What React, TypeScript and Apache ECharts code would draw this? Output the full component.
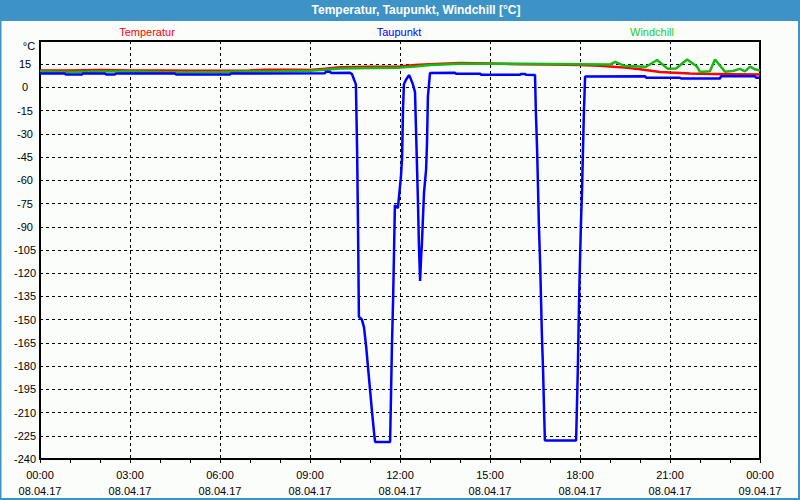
import React, { useEffect, useRef } from "react";
import * as echarts from "echarts";

const TITLE = "Temperatur, Taupunkt, Windchill [°C]";
const SERIES_NAMES = ["Temperatur", "Taupunkt", "Windchill"];
const X_TICK_HOURS = [0, 3, 6, 9, 12, 15, 18, 21, 24];
const X_TICK_TIMES = ["00:00", "03:00", "06:00", "09:00", "12:00", "15:00", "18:00", "21:00", "00:00"];
const X_TICK_DATES = ["08.04.17", "08.04.17", "08.04.17", "08.04.17", "08.04.17", "08.04.17", "08.04.17", "08.04.17", "09.04.17"];
const Y_MIN = -240;
const Y_MAX = 30;
const Y_STEP = 15;

// [hour, °C]
const temperatur: number[][] = [
  [0, 11], [1, 11], [2, 11.2], [3, 11], [4, 11], [5, 10.8], [6, 10.8], [7, 11], [7.5, 11.5],
  [8.5, 11.5], [9, 11.3], [9.5, 12], [10, 13], [11, 13.3], [12, 13.5], [12.5, 14.5], [13, 15],
  [14, 15.8], [15, 15.5], [16, 15], [17, 14.8], [18, 14.5], [18.67, 14], [19, 13.6], [19.5, 12.8],
  [20, 11.7], [20.67, 10], [21, 9.6], [21.67, 9], [22, 8.8], [23, 8.6], [24, 8.4],
];

const taupunkt: number[][] = [
  [0, 9], [0.83, 9], [0.85, 8.4], [1.4, 8.4], [1.43, 9], [2.17, 9], [2.2, 8.4], [2.5, 8.4],
  [2.53, 9], [4.5, 9], [4.53, 8.4], [6.33, 8.4], [6.37, 9], [9.5, 9.2], [9.53, 10.2], [9.67, 10.2],
  [9.7, 9.3], [10.33, 9.5], [10.4, 8.6], [10.47, 5], [10.53, 2], [10.57, -40], [10.6, -88],
  [10.63, -148], [10.73, -150], [10.8, -155], [10.87, -167], [10.93, -180], [11.0, -195],
  [11.07, -210], [11.13, -222], [11.17, -229], [11.67, -229], [11.7, -199], [11.73, -168],
  [11.77, -137], [11.8, -107], [11.83, -76], [11.93, -78], [12.03, -58], [12.07, -45], [12.1, -14],
  [12.13, 2], [12.2, 5], [12.3, 8], [12.33, 7], [12.43, 2], [12.5, -3], [12.6, -75], [12.63, -101],
  [12.67, -125], [12.7, -111], [12.73, -101], [12.8, -68], [12.87, -53], [12.9, -36], [12.93, -6],
  [13.0, 9.3], [13.83, 9.5], [13.87, 8.9], [14.67, 8.9], [14.7, 8.2], [16.0, 8.2], [16.03, 8.7],
  [16.17, 8.7], [16.2, 8.2], [16.5, 8], [16.53, -16], [16.57, -40], [16.6, -64], [16.63, -89],
  [16.67, -113], [16.7, -136], [16.73, -160], [16.77, -183], [16.8, -207], [16.83, -228],
  [17.87, -228], [17.9, -204], [17.93, -180], [17.97, -136], [18.0, -112], [18.03, -89],
  [18.07, -65], [18.1, -40], [18.13, -16], [18.17, 7], [20.17, 7.3], [20.2, 6.3], [21.33, 6.3],
  [21.37, 5.8], [22.67, 5.8], [22.7, 7.3], [23.83, 7.3], [23.87, 6.3], [24, 6.3],
];

const windchill: number[][] = [
  [0, 10.3], [1, 10], [2, 10.3], [3, 10.3], [4, 10], [5, 9.8], [6, 10], [7, 10.3], [8, 10.5],
  [9, 10.8], [9.5, 11.5], [10, 12.3], [11, 12.5], [12, 12.8], [12.5, 13.6], [13, 14.5], [14, 15.3],
  [16, 15.3], [18, 15], [19, 14.8], [19.17, 16.5], [19.5, 13.8], [20.2, 13.4], [20.57, 17.7],
  [20.93, 12], [21.2, 12.2], [21.57, 18], [21.9, 13.5], [22, 10], [22.33, 10.4], [22.5, 18],
  [22.83, 10.2], [23.1, 10.6], [23.33, 12], [23.5, 10.4], [23.67, 13.4], [23.83, 11.7], [24, 11],
];

const FONT = "'Liberation Sans', Arial, sans-serif";
const FRAME = "#3d92c6";

export default function App() {
  const ref = useRef<HTMLDivElement>(null);

  useEffect(() => {
    if (!ref.current) return;
    const chart = echarts.init(ref.current, null, { renderer: "svg" });
    const labelFor = (v: number) => {
      const i = X_TICK_HOURS.indexOf(Math.round(v));
      return i >= 0 ? X_TICK_TIMES[i] + "\n" + X_TICK_DATES[i] : "";
    };
    chart.setOption({
      animation: false,
      backgroundColor: "#fbfdfb",
      textStyle: { fontFamily: FONT },
      grid: {
        left: 40, right: 40, top: 41, bottom: 41,
        show: true, borderColor: "#000", borderWidth: 2, backgroundColor: "transparent",
      },
      graphic: [
        { type: "rect", shape: { x: 0, y: 0, width: 800, height: 21 }, style: { fill: FRAME }, silent: true },
        { type: "rect", shape: { x: 0, y: 0, width: 1.5, height: 500 }, style: { fill: FRAME }, silent: true },
        { type: "rect", shape: { x: 798, y: 0, width: 2, height: 500 }, style: { fill: FRAME }, silent: true },
        { type: "rect", shape: { x: 0, y: 498, width: 800, height: 2 }, style: { fill: FRAME }, silent: true },
        {
          type: "text", x: 416, y: 10,
          style: { text: TITLE, fill: "#ffffff", font: "bold 12px " + FONT, textAlign: "center", textVerticalAlign: "middle" },
        },
        {
          type: "text", x: 147, y: 32,
          style: { text: SERIES_NAMES[0], fill: "#ff0000", font: "11px " + FONT, textAlign: "center", textVerticalAlign: "middle" },
        },
        {
          type: "text", x: 399, y: 32,
          style: { text: SERIES_NAMES[1], fill: "#0000ff", font: "11px " + FONT, textAlign: "center", textVerticalAlign: "middle" },
        },
        {
          type: "text", x: 652, y: 32,
          style: { text: SERIES_NAMES[2], fill: "#22cc22", font: "11px " + FONT, textAlign: "center", textVerticalAlign: "middle" },
        },
        {
          type: "text", x: 29, y: 46,
          style: { text: "°C", fill: "#000", font: "11px " + FONT, textAlign: "center", textVerticalAlign: "middle" },
        },
      ],
      xAxis: {
        type: "value", min: 0, max: 24, interval: 3,
        axisLine: { show: true, onZero: false, lineStyle: { color: "#000", width: 2 } },
        axisTick: { show: true, length: 4, lineStyle: { color: "#000" } },
        minorTick: { show: true, splitNumber: 3, length: 4, lineStyle: { color: "#000" } },
        splitLine: { show: true, lineStyle: { color: "#000", width: 1, type: [3, 3] } },
        axisLabel: {
          color: "#000", fontSize: 11, lineHeight: 16, margin: 8, fontFamily: FONT,
          formatter: (v: number) => labelFor(v),
          showMinLabel: true, showMaxLabel: true,
        },
      },
      yAxis: {
        type: "value", min: Y_MIN, max: Y_MAX, interval: Y_STEP,
        axisLine: { show: true, onZero: false, lineStyle: { color: "#000", width: 2 } },
        axisTick: { show: false },
        splitLine: { show: true, lineStyle: { color: "#000", width: 1, type: [3, 3] } },
        axisLabel: {
          color: "#000", fontSize: 11, margin: 15, align: "center", fontFamily: FONT,
          formatter: (v: number) => (v >= Y_MAX ? "" : String(v)),
        },
      },
      series: [
        {
          name: SERIES_NAMES[0], type: "line", data: temperatur, showSymbol: false, z: 3,
          lineStyle: { color: "#ff0000", width: 2.5 }, itemStyle: { color: "#ff0000" },
        },
        {
          name: SERIES_NAMES[2], type: "line", data: windchill, showSymbol: false, z: 4,
          lineStyle: { color: "#11bb11", width: 2.5 }, itemStyle: { color: "#11bb11" },
        },
        {
          name: SERIES_NAMES[1], type: "line", data: taupunkt, showSymbol: false, z: 5,
          lineStyle: { color: "#0000ff", width: 2.5 }, itemStyle: { color: "#0000ff" },
        },
      ],
    });
    return () => chart.dispose();
  }, []);

  return (
    <div
      ref={ref}
      style={{ position: "absolute", left: 0, top: 0, width: 800, height: 500 }}
    />
  );
}
